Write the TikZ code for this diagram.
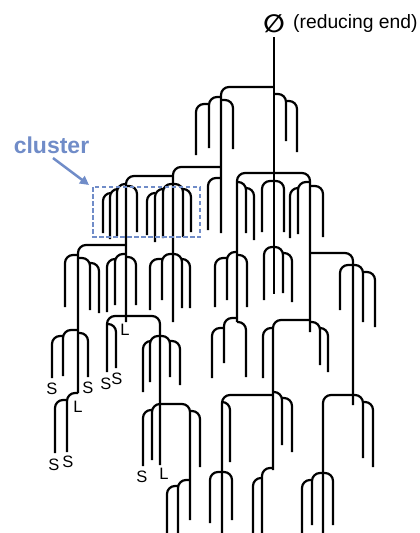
\documentclass[tikz,border=0pt]{standalone}
\usepackage{fontspec}
\setmainfont{Liberation Sans}
\newfontfamily\djv{DejaVu Sans}
\usetikzlibrary{arrows.meta}
\definecolor{clblue}{RGB}{112,140,200}
\tikzset{
  chainline/.style={line width=2.2pt, rounded corners=8pt},
  lab/.style={font=\fontsize{16.5}{16.5}\selectfont, inner sep=0pt},
}
\newcommand\chn[4]{\draw[chainline] (#1,#2) -- (#3,#2) -- (#3,#4);}
\begin{document}
\begin{tikzpicture}[x=1pt,y=-1pt]
\useasboundingbox (0,0) rectangle (420,533);
% title
\node[inner sep=0pt] (phi) at (274,24) {\djv\bfseries\fontsize{25}{25}\selectfont ∅};
\node[anchor=base west, inner sep=0pt, font=\fontsize{19.3}{19.3}\selectfont] (red) at (293,28) {(reducing end)};
% backbone
\draw[chainline] (274,37) -- (274,294);
% cluster A
\chn{274}{87}{221}{233}
\chn{221}{97}{209}{148}
\chn{209}{104}{196}{155}
\chn{221}{100}{233}{149}
\chn{274}{94}{286}{141}
\chn{286}{101}{297}{152}
% cluster B
\chn{221}{167}{173}{322}
\chn{173}{176}{126}{322}
\chn{126}{184}{117}{236}
\chn{117}{189}{110}{239}
\chn{110}{193}{103}{233}
\chn{126}{186}{137}{232}
\chn{173}{184}{163}{238}
\chn{163}{189}{155}{242}
\chn{155}{193}{147}{235}
\chn{173}{184}{183}{237}
\chn{183}{189}{191}{232}
\chn{221}{178}{208}{230}
% cluster C
\chn{274}{173}{237}{322}
\chn{274}{173}{310}{332}
\chn{237}{182}{246}{233}
\chn{246}{188}{254}{240}
\chn{274}{181}{262}{232}
\chn{274}{181}{284}{232}
\chn{310}{182}{298}{234}
\chn{298}{188}{290}{238}
\chn{310}{186}{323}{237}
% backbone end cluster
\chn{274}{247}{264}{300}
\chn{274}{247}{283}{293}
\chn{283}{253}{292}{302}
% cluster D
\chn{126}{245}{78}{393}
\chn{78}{255}{65}{307}
\chn{78}{258}{90}{310}
\chn{90}{263}{99}{313}
\chn{126}{254}{115}{305}
\chn{115}{259}{107}{312}
\chn{126}{257}{136}{305}
% cluster E
\chn{173}{254}{162}{300}
\chn{162}{259}{150}{310}
\chn{173}{254}{182}{308}
\chn{182}{259}{190}{308}
% cluster F
\chn{78}{330}{63}{376}
\chn{63}{336}{52}{378}
\chn{78}{333}{88}{377}
\chn{78}{393}{67}{452}
\chn{67}{400}{55}{453}
% left middle
\chn{126}{316}{107}{372}
\chn{107}{324}{116}{368}
\chn{126}{316}{160}{465}
% cluster G
\chn{160}{336}{150}{382}
\chn{150}{341}{143}{392}
\chn{160}{336}{170}{377}
\chn{170}{341}{180}{385}
\chn{160}{404}{152}{460}
\chn{152}{410}{143}{466}
\chn{160}{404}{190}{520}
\chn{190}{411}{200}{467}
\chn{190}{480}{178}{533}
\chn{178}{486}{167}{533}
% cluster H
\chn{237}{252}{227}{300}
\chn{227}{258}{215}{307}
\chn{237}{255}{247}{307}
\chn{237}{318}{224}{363}
\chn{224}{328}{212}{378}
\chn{237}{322}{246}{377}
% cluster I
\chn{310}{253}{353}{405}
\chn{353}{265}{340}{310}
\chn{353}{265}{363}{322}
\chn{363}{272}{375}{327}
% chain 310 lower
\chn{310}{320}{273}{470}
\chn{310}{322}{320}{365}
\chn{320}{328}{328}{372}
\chn{273}{328}{263}{378}
% lower middle
\chn{273}{395}{222}{533}
\chn{222}{402}{230}{462}
\chn{273}{392}{282}{445}
\chn{282}{398}{292}{452}
\chn{222}{472}{210}{523}
\chn{222}{472}{232}{520}
\chn{273}{468}{262}{533}
\chn{262}{478}{253}{533}
% right lower
\chn{353}{395}{323}{533}
\chn{353}{395}{363}{458}
\chn{363}{402}{373}{467}
\chn{323}{473}{312}{525}
\chn{312}{480}{302}{533}
\chn{323}{473}{333}{525}
% labels
\node[lab] (s1) at (52,389) {S};
\node[lab] (s2) at (88,388) {S};
\node[lab] (l1) at (78,407) {L};
\node[lab] (s3) at (54,465) {S};
\node[lab] (s4) at (68,462) {S};
\node[lab] (s5) at (106,384) {S};
\node[lab] (s6) at (117,379) {S};
\node[lab] (l2) at (125,330) {L};
\node[lab] (s7) at (142,477) {S};
\node[lab] (l3) at (164,474) {L};
% cluster annotation
\draw[clblue, line width=1.9pt, dash pattern=on 4.5pt off 2.5pt] (93,187) rectangle (200,237);
\node[anchor=base, inner sep=0pt, text=clblue, font=\bfseries\fontsize{23}{23}\selectfont] (cl) at (51.5,153) {cluster};
\coordinate (ah) at (89,185);
\draw[clblue, line width=2.5pt, -{Triangle[length=9pt,width=9pt]}] (53,158) -- (ah);
\end{tikzpicture}
\end{document}
